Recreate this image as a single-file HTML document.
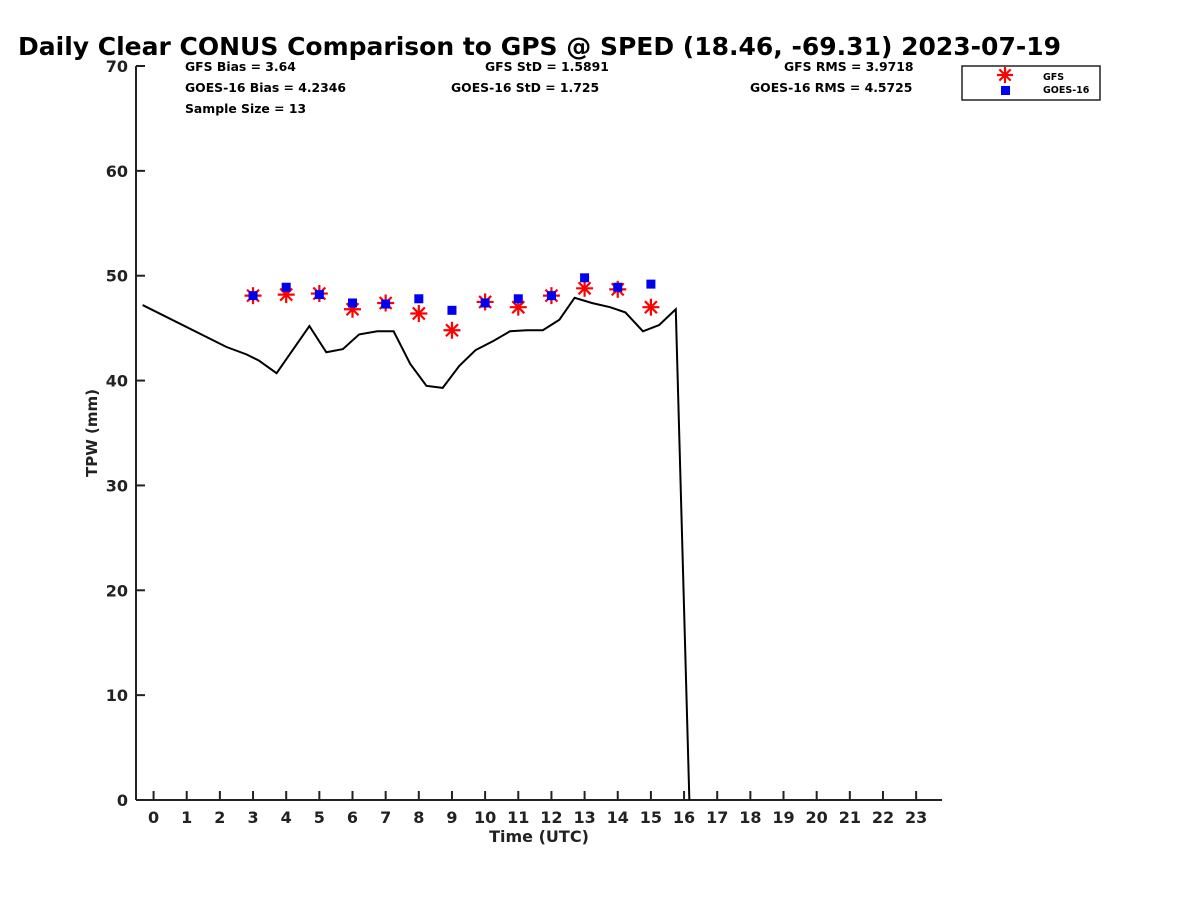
<!DOCTYPE html>
<html><head><meta charset="utf-8"><style>
body{margin:0;background:#fff;}
svg{display:block;font-family:"DejaVu Sans","Liberation Sans",sans-serif;font-weight:bold;}
</style></head><body>
<svg id="chart" width="1200" height="900">
<text x="18" y="55" font-size="25" fill="#000">Daily Clear CONUS Comparison to GPS @ SPED (18.46, -69.31) 2023-07-19</text>
<g font-size="12.4" fill="#000">
<text x="185" y="71">GFS Bias = 3.64</text>
<text x="185" y="92">GOES-16 Bias = 4.2346</text>
<text x="185" y="113">Sample Size = 13</text>
<text x="485" y="71">GFS StD = 1.5891</text>
<text x="451" y="92">GOES-16 StD = 1.725</text>
<text x="784" y="71">GFS RMS = 3.9718</text>
<text x="750" y="92">GOES-16 RMS = 4.5725</text>
</g>
<g id="axes"></g>
<g id="marks"></g>
<g>
<rect x="962" y="66" width="138" height="34" fill="#fff" stroke="#222" stroke-width="1.5"/>
<g id="legstar"></g>
<rect x="1001" y="86" width="9" height="9" fill="#0000ee"/>
<text x="1043" y="80" font-size="9.5">GFS</text>
<text x="1043" y="93" font-size="9.5">GOES-16</text>
</g>
</svg>
<script>
const hours=[3,4,5,6,7,8,9,10,11,12,13,14,15];
const gfsValues=[48.1,48.2,48.3,46.8,47.4,46.4,44.8,47.5,47.0,48.1,48.8,48.7,47.0];
const goesValues=[48.1,48.9,48.2,47.4,47.3,47.8,46.7,47.4,47.8,48.1,49.8,48.9,49.2];
const gpsHours=[-0.33,2.2,2.8,3.18,3.71,4.7,5.21,5.71,6.2,6.75,7.24,7.74,8.23,8.72,9.22,9.71,10.26,10.75,11.25,11.74,12.24,12.7,13.22,13.77,14.23,14.76,15.25,15.75,16.16];
const gpsValues=[47.2,43.2,42.5,41.9,40.7,45.2,42.7,43.0,44.4,44.7,44.7,41.6,39.5,39.3,41.4,42.9,43.8,44.7,44.8,44.8,45.8,47.9,47.4,47.0,46.5,44.7,45.3,46.8,0];
const xTicks=[0,1,2,3,4,5,6,7,8,9,10,11,12,13,14,15,16,17,18,19,20,21,22,23];
const yTicks=[0,10,20,30,40,50,60,70];
const NS="http://www.w3.org/2000/svg";
const X0=136,X1=942,Y0=800,Y1=66,XMIN=-0.53,XMAX=23.78,YMIN=0,YMAX=70;
const sx=v=>X0+(v-XMIN)/(XMAX-XMIN)*(X1-X0);
const sy=v=>Y0-(v-YMIN)/(YMAX-YMIN)*(Y0-Y1);
function mk(tag,attrs,parent){const e=document.createElementNS(NS,tag);for(const k in attrs)e.setAttribute(k,attrs[k]);parent.appendChild(e);return e;}
const ax=document.getElementById('axes'),mg=document.getElementById('marks');
let l=mk('line',{x1:X0,y1:Y1,x2:X0,y2:Y0,stroke:'#222','stroke-width':2},ax);


l=mk('line',{x1:X0,y1:Y0,x2:X1,y2:Y0,stroke:'#222','stroke-width':2},ax);


yTicks.forEach(v=>{const y=sy(v);
 let t=mk('line',{x1:X0,y1:y,x2:X0+9,y2:y,stroke:'#222','stroke-width':2},ax);
 
 
 let tx=mk('text',{x:X0-8,y:y+6,'text-anchor':'end','font-size':16,fill:'#222'},ax);tx.textContent=v;
 
 
});
xTicks.forEach(v=>{const x=sx(v);
 let t=mk('line',{x1:x,y1:Y0,x2:x,y2:Y0-9,stroke:'#222','stroke-width':2},ax);
 
 
 let tx=mk('text',{x:x,y:Y0+23,'text-anchor':'middle','font-size':16,fill:'#222'},ax);tx.textContent=v;
 
 
});
let xl=mk('text',{x:539,y:842,'text-anchor':'middle','font-size':16,fill:'#222'},ax);xl.textContent='Time (UTC)';


let yl=mk('text',{x:97,y:433,'text-anchor':'middle','font-size':15,fill:'#222',transform:'rotate(-90 97 433)'},ax);yl.textContent='TPW (mm)';


const pl=mk('polyline',{points:gpsHours.map((h,i)=>sx(h)+','+sy(gpsValues[i])).join(' '),fill:'none',stroke:'#000','stroke-width':2},mg);


function star(cx,cy,r,parent){const g=mk('g',{stroke:'#ff0000','stroke-width':2.2},parent);
 for(let k=0;k<4;k++){const a=k*Math.PI/4;mk('line',{x1:cx-r*Math.cos(a),y1:cy-r*Math.sin(a),x2:cx+r*Math.cos(a),y2:cy+r*Math.sin(a)},g);}return g;}
hours.forEach((h,i)=>{
 const s=star(sx(h),sy(gfsValues[i]),8.5,mg);
 
 
});
hours.forEach((h,i)=>{
 const r=mk('rect',{x:sx(h)-4.5,y:sy(goesValues[i])-4.5,width:9,height:9,fill:'#0000ee'},mg);
 
 
});
star(1005,75,8,document.getElementById('legstar'));
</script>
</body></html>
